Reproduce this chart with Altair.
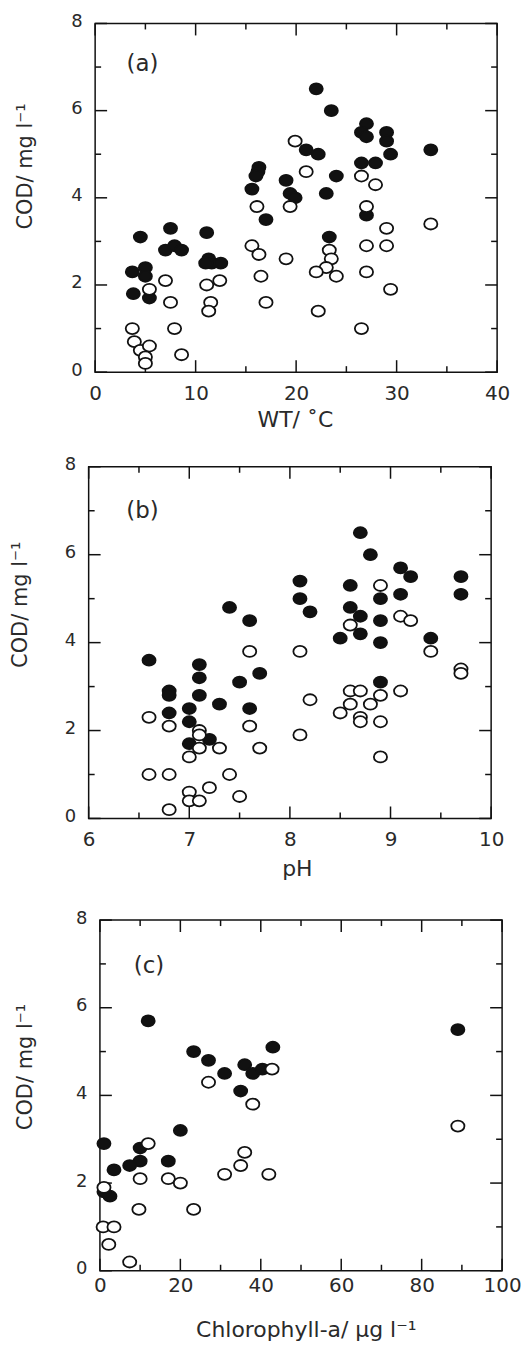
import altair as alt
import pandas as pd

FONT = "DejaVu Sans"
INK = "#111111"
TXT = "#2a2a2a"

# ---------------- data ----------------
# (a) COD vs water temperature
a_filled_x = [22, 23.5, 27, 26.5, 27, 29, 29, 29.4, 33.4, 21, 22.2, 16.3, 16.2, 16, 15.6, 19, 19.4, 19.9,
              24, 23, 26.5, 27.9, 27, 17, 23.3, 4.5, 7.5, 11.1, 7, 7.9, 8.6, 3.7, 5, 5, 3.8, 5.4,
              11.3, 11.6, 12.5, 11]
a_filled_y = [6.5, 6.0, 5.7, 5.5, 5.4, 5.5, 5.3, 5.0, 5.1, 5.1, 5.0, 4.7, 4.6, 4.5, 4.2, 4.4, 4.1, 4.0,
              4.5, 4.1, 4.8, 4.8, 3.6, 3.5, 3.1, 3.1, 3.3, 3.2, 2.8, 2.9, 2.8, 2.3, 2.4, 2.2, 1.8, 1.7,
              2.6, 2.5, 2.5, 2.5]
a_open_x = [19.9, 21, 26.5, 27.9, 16.1, 19.4, 27, 33.4, 29, 15.6, 16.3, 19, 23.3, 23.5, 23, 22, 24, 27, 29,
            27, 29.4, 16.5, 17, 22.2, 26.5, 7, 7.5, 7.9, 8.6, 11.1, 12.4, 11.5, 11.3, 5.4, 3.7, 3.9, 4.5,
            5.4, 5.0, 5.0]
a_open_y = [5.3, 4.6, 4.5, 4.3, 3.8, 3.8, 3.8, 3.4, 3.3, 2.9, 2.7, 2.6, 2.8, 2.6, 2.4, 2.3, 2.2, 2.9, 2.9,
            2.3, 1.9, 2.2, 1.6, 1.4, 1.0, 2.1, 1.6, 1.0, 0.4, 2.0, 2.1, 1.6, 1.4, 1.9, 1.0, 0.7, 0.5,
            0.6, 0.35, 0.2]

# (b) COD vs pH
b_filled_x = [8.7, 8.8, 9.1, 9.2, 9.7, 9.7, 8.1, 8.1, 8.2, 8.6, 8.6, 8.7, 8.9, 8.9, 9.1, 7.4, 7.6, 8.5,
              8.7, 8.9, 9.4, 8.9, 6.6, 7.1, 7.1, 7.5, 7.7, 6.8, 6.8, 7.1, 7.3, 7.0, 7.6, 6.8, 7.0, 7.2, 7.0]
b_filled_y = [6.5, 6.0, 5.7, 5.5, 5.5, 5.1, 5.4, 5.0, 4.7, 5.3, 4.8, 4.6, 5.0, 4.5, 5.1, 4.8, 4.5, 4.1,
              4.2, 4.0, 4.1, 3.1, 3.6, 3.5, 3.2, 3.1, 3.3, 2.9, 2.8, 2.8, 2.6, 2.5, 2.5, 2.4, 2.2, 1.8, 1.7]
b_open_x = [8.9, 9.1, 9.2, 8.6, 7.6, 8.1, 9.4, 9.7, 9.7, 8.6, 8.7, 9.1, 8.9, 8.6, 8.8, 8.2, 8.5, 8.7, 8.7,
            8.9, 6.6, 6.8, 7.6, 8.1, 7.1, 7.1, 7.1, 7.3, 7.0, 7.7, 8.9, 6.6, 6.8, 7.4, 7.2, 7.0, 7.0, 7.1,
            7.5, 6.8]
b_open_y = [5.3, 4.6, 4.5, 4.4, 3.8, 3.8, 3.8, 3.4, 3.3, 2.9, 2.9, 2.9, 2.8, 2.6, 2.6, 2.7, 2.4, 2.3, 2.2,
            2.2, 2.3, 2.1, 2.1, 1.9, 2.0, 1.9, 1.6, 1.6, 1.4, 1.6, 1.4, 1.0, 1.0, 1.0, 0.7, 0.6, 0.4, 0.4,
            0.5, 0.2]

# (c) COD vs chlorophyll-a
c_filled_x = [12, 89, 23.3, 27, 43, 36, 31, 38, 40.4, 35, 20, 1, 10, 10, 7.4, 3.5, 17, 2.5, 1]
c_filled_y = [5.7, 5.5, 5.0, 4.8, 5.1, 4.7, 4.5, 4.5, 4.6, 4.1, 3.2, 2.9, 2.8, 2.5, 2.4, 2.3, 2.5, 1.7, 1.8]
c_open_x = [42.8, 27, 38, 89, 12, 36, 35, 31, 42, 10, 17, 20, 1, 9.7, 23.3, 0.8, 3.5, 2.2, 7.4]
c_open_y = [4.6, 4.3, 3.8, 3.3, 2.9, 2.7, 2.4, 2.2, 2.2, 2.1, 2.1, 2.0, 1.9, 1.4, 1.4, 1.0, 1.0, 0.6, 0.2]

# axis ticks
a_x_major = [0, 10, 20, 30, 40]
a_x_minor = [5, 15, 25, 35]
b_x_major = [6, 7, 8, 9, 10]
b_x_minor = [6.5, 7.5, 8.5, 9.5]
c_x_major = [0, 20, 40, 60, 80, 100]
c_x_minor = [10, 30, 50, 70, 90]
y_major = [0, 2, 4, 6, 8]
y_minor = [1, 3, 5, 7]

y_title = "COD/ mg l⁻¹"
a_x_title = "WT/ ˚C"
b_x_title = "pH"
c_x_title = "Chlorophyll-a/ μg l⁻¹"

ELLIPSE = "M-1,0A1,0.84,0,1,0,1,0A1,0.84,0,1,0,-1,0Z"
VIEW_W = 528


def panel(fx, fy, ox, oy, xdom, xmaj, xmin, xtitle, tag, g):
    xs = alt.Scale(domain=xdom, range=[g["left"], g["right"]], nice=False, zero=False)
    ys = alt.Scale(domain=[0, 8], range=[g["bottom"], g["top"]], nice=False, zero=False)
    ymin, ymax = 0, 8

    x_axis = alt.Axis(
        values=xmaj, ticks=False, domain=False, grid=False, labelFlush=False, labelOverlap=False,
        labelFont=FONT, labelFontSize=20, labelColor=TXT, labelPadding=g["lpad"],
        offset=g["xoff"], title=xtitle, titleFont=FONT, titleFontSize=22, titleFontWeight="normal",
        titleColor=TXT, titleX=g["xtx"], titleY=g["xty"], titleAlign="center",
        titleBaseline="alphabetic")
    y_axis = alt.Axis(
        values=y_major, ticks=False, domain=False, grid=False, labelOverlap=False,
        labelFont=FONT, labelFontSize=18, labelColor=TXT, labelPadding=13, labelOffset=-2,
        offset=g["yoff"], title=y_title, titleFont=FONT, titleFontSize=21, titleFontWeight="normal",
        titleColor=TXT, titleAngle=270, titleX=g["ytx"], titleY=g["yty"], titleAlign="center",
        titleBaseline="middle")

    def X(f):
        return alt.X(f, scale=xs, axis=x_axis)

    def Y(f):
        return alt.Y(f, scale=ys, axis=y_axis)

    layers = []
    frame_df = pd.DataFrame({"x0": [xdom[0]], "x1": [xdom[1]], "y0": [ymin], "y1": [ymax]})
    layers.append(
        alt.Chart(frame_df).mark_rect(fill="transparent", stroke=INK, strokeWidth=1.5).encode(
            x=X("x0:Q"), x2="x1:Q", y=Y("y0:Q"), y2="y1:Q")
    )

    for vals, L in ((xmaj, 12), (xmin, 6)):
        d = pd.DataFrame({"v": vals, "lo": [ymin] * len(vals), "hi": [ymax] * len(vals)})
        layers.append(alt.Chart(d).mark_rule(color=INK, strokeWidth=1.5, y2Offset=-L).encode(
            x=X("v:Q"), y=Y("lo:Q"), y2="lo:Q"))
        layers.append(alt.Chart(d).mark_rule(color=INK, strokeWidth=1.5, y2Offset=L).encode(
            x=X("v:Q"), y=Y("hi:Q"), y2="hi:Q"))
    for vals, L in ((y_major, 12), (y_minor, 6)):
        d = pd.DataFrame({"v": vals, "lo": [xdom[0]] * len(vals), "hi": [xdom[1]] * len(vals)})
        layers.append(alt.Chart(d).mark_rule(color=INK, strokeWidth=1.5, x2Offset=L).encode(
            y=Y("v:Q"), x=X("lo:Q"), x2="lo:Q"))
        layers.append(alt.Chart(d).mark_rule(color=INK, strokeWidth=1.5, x2Offset=-L).encode(
            y=Y("v:Q"), x=X("hi:Q"), x2="hi:Q"))

    fdf = pd.DataFrame({"x": fx, "y": fy})
    odf = pd.DataFrame({"x": ox, "y": oy})
    layers.append(alt.Chart(fdf).mark_point(
        shape=ELLIPSE, size=175, filled=True, fill=INK, stroke=INK, strokeWidth=1.7, opacity=1
    ).encode(x=X("x:Q"), y=Y("y:Q")))
    layers.append(alt.Chart(odf).mark_point(
        shape=ELLIPSE, size=175, filled=True, fill="white", stroke=INK, strokeWidth=1.8, opacity=1
    ).encode(x=X("x:Q"), y=Y("y:Q")))

    layers.append(alt.Chart(pd.DataFrame({"t": [tag]})).mark_text(
        font=FONT, fontSize=23, color=TXT, align="center", baseline="middle"
    ).encode(text="t:N", x=alt.value(g["tagx"]), y=alt.value(g["tagy"])))

    return alt.layer(*layers).properties(width=VIEW_W, height=g["h"])


geo_a = dict(h=440, left=94.5, right=498, top=20, bottom=370, xoff=-70, yoff=-94.5,
             ytx=-69.5, yty=163, xtx=295, xty=55, lpad=11, tagx=142, tagy=61)
geo_b = dict(h=450, left=88, right=492, top=25, bottom=378, xoff=-72, yoff=-88,
             ytx=-68, yty=163, xtx=297, xty=57, lpad=11, tagx=142, tagy=69.5)
geo_c = dict(h=458, left=99.3, right=503, top=30, bottom=382, xoff=-76, yoff=-99.3,
             ytx=-74.3, yty=177, xtx=306, xty=66, lpad=5, tagx=148.5, tagy=76)

pa = panel(a_filled_x, a_filled_y, a_open_x, a_open_y, [0, 40], a_x_major, a_x_minor, a_x_title, "(a)", geo_a)
pb = panel(b_filled_x, b_filled_y, b_open_x, b_open_y, [6, 10], b_x_major, b_x_minor, b_x_title, "(b)", geo_b)
pc = panel(c_filled_x, c_filled_y, c_open_x, c_open_y, [0, 100], c_x_major, c_x_minor, c_x_title, "(c)", geo_c)

chart = alt.vconcat(pa, pb, pc, spacing=0, bounds="flush").configure_view(
    stroke="transparent").properties(padding=0, background="white")

chart.save("out.html", embed_options={"renderer": "svg", "actions": False})
